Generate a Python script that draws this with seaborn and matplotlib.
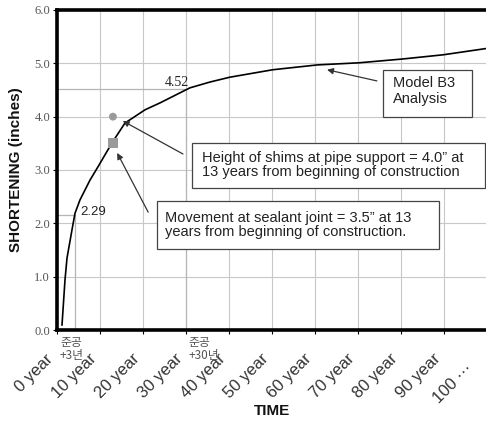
import matplotlib
matplotlib.use("Agg")
import matplotlib.pyplot as plt
import matplotlib.transforms as mtransforms
from matplotlib.patches import Rectangle
import seaborn as sns
import pandas as pd

# ---- data ----
years = [1.16, 1.86, 2.33, 3.49, 4.19, 5.35, 7.67, 9.53, 12.8, 15.8, 20.5,
         24.0, 30.9, 35.6, 40.2, 50.2, 60.5, 70.2, 80.2, 89.8, 100.0]
shortening = [0.09, 0.94, 1.35, 1.88, 2.19, 2.44, 2.81, 3.06, 3.51, 3.88, 4.13,
              4.26, 4.54, 4.65, 4.74, 4.88, 4.97, 5.01, 5.08, 5.16, 5.28]

shim_year = [13]
shim_value = [4.0]
sealant_year = [13]
sealant_value = [3.5]

milestone_years = [4.2, 30]
milestone_values = [2.15, 4.52]
milestone_texts = ["2.29", "4.52"]
milestone_korean = ["준공\n+3년", "준공\n+30년"]

x_ticks = list(range(0, 101, 10))
x_labels = ["0 year", "10 year", "20 year", "30 year", "40 year", "50 year",
            "60 year", "70 year", "80 year", "90 year", "100 \u00b7\u00b7\u00b7"]
y_ticks = [0, 1, 2, 3, 4, 5, 6]
y_labels = ["0.0", "1.0", "2.0", "3.0", "4.0", "5.0", "6.0"]

# ---- style ----
sns.set_theme(style="white")
plt.rcParams['font.family'] = ['Liberation Sans', 'Noto Sans CJK KR', 'DejaVu Sans']

fig = plt.figure(figsize=(4.86, 4.23), dpi=100)
ax = fig.add_axes([57 / 486, 93 / 423, 430 / 486, 320 / 423])

df = pd.DataFrame({"year": years, "short": shortening})
sns.lineplot(data=df, x="year", y="short", ax=ax, color="black", lw=1.2,
             sort=False, zorder=3)
sns.scatterplot(x=shim_year, y=shim_value, marker="o", s=32, color="#9a9a9a",
                edgecolor="none", ax=ax, zorder=4)
sns.scatterplot(x=sealant_year, y=sealant_value, marker="s", s=52, color="#9a9a9a",
                edgecolor="none", ax=ax, zorder=4)

ax.set_xlim(0, 100)
ax.set_ylim(0, 6)
ax.set_xticks(x_ticks)
ax.set_xticklabels(x_labels, rotation=45, ha="right", va="baseline",
                   rotation_mode="anchor", fontsize=12, color="#333333")
ax.set_yticks(y_ticks)
ax.set_yticklabels(y_labels, fontfamily="Liberation Serif", fontsize=9, color="#555555")
ax.grid(True, color="#c8c8c8", lw=0.8)
ax.tick_params(axis="both", direction="out", length=3, width=0.8, color="black",
               bottom=True, left=True)
ax.tick_params(axis="x", pad=18.5)
ax.tick_params(axis="y", pad=2)
for s in ["left", "bottom", "top"]:
    ax.spines[s].set_linewidth(2.6)
    ax.spines[s].set_color("black")
ax.spines["right"].set_visible(False)

# small offsets for the rotated tick labels (last label sits further back)
labels = ax.get_xticklabels()
for i, lab in enumerate(labels):
    if i == len(labels) - 1:
        off = mtransforms.ScaledTranslation(-0.13, -0.10, fig.dpi_scale_trans)
    else:
        off = mtransforms.ScaledTranslation(-0.03, 0.0, fig.dpi_scale_trans)
    lab.set_transform(lab.get_transform() + off)

ax.set_xlabel("TIME", fontsize=11, fontweight="bold", color="#111111")
ax.set_ylabel("SHORTENING (inches)", fontsize=11, fontweight="bold", color="#111111")
ax.xaxis.set_label_coords(0.5, (330 - 404) / 320)
ax.yaxis.set_label_coords((23 - 57) / 430, 0.5)

# milestone drop lines
for mx, my in zip(milestone_years, milestone_values):
    ax.plot([0, mx], [my, my], color="#b5b5b5", lw=0.9, zorder=2)
    ax.plot([mx, mx], [0, my], color="#b5b5b5", lw=0.9, zorder=2)

ax.text(5.35, 2.21, milestone_texts[0], fontsize=9.5, va="center", ha="left", color="#222222")
ax.text(25.1, 4.65, milestone_texts[1], fontfamily="Liberation Serif", fontsize=10,
        va="center", ha="left", color="#222222")

blend = mtransforms.blended_transform_factory(ax.transData, ax.transAxes)
ax.text(0.7, -0.02, milestone_korean[0], transform=blend, va="top", ha="left",
        fontsize=8.5, color="#555555", family=["Noto Sans CJK KR"], linespacing=1.0)
ax.text(30.5, -0.02, milestone_korean[1], transform=blend, va="top", ha="left",
        fontsize=8.5, color="#555555", family=["Noto Sans CJK KR"], linespacing=1.0)

# annotation boxes
def box(x0, x1, ytop, ybot):
    ax.add_patch(Rectangle((x0, ybot), x1 - x0, ytop - ybot, transform=ax.transAxes,
                           facecolor="white", edgecolor="#444444", lw=0.9, zorder=5,
                           clip_on=False))

box(0.314, 0.995, 0.584, 0.444)
ax.text(0.337, 0.516, "Height of shims at pipe support = 4.0\u201d at\n13 years from beginning of construction",
        transform=ax.transAxes, fontsize=10.5, va="center", ha="left", color="#222222",
        linespacing=1.0, zorder=6)
box(0.2326, 0.888, 0.403, 0.253)
ax.text(0.251, 0.328, "Movement at sealant joint = 3.5\u201d at 13\nyears from beginning of construction.",
        transform=ax.transAxes, fontsize=10.5, va="center", ha="left", color="#222222",
        linespacing=1.0, zorder=6)
box(0.758, 0.965, 0.8125, 0.666)
ax.text(0.781, 0.747, "Model B3\nAnalysis", transform=ax.transAxes, fontsize=10.5,
        va="center", ha="left", color="#222222", linespacing=1.15, zorder=6)

# arrows
arrow_kw = dict(arrowstyle="-|>", color="#333333", lw=0.9, mutation_scale=9,
                shrinkA=0, shrinkB=0)
ax.annotate("", xy=(15.3, 3.92), xytext=(29.3, 3.30), arrowprops=arrow_kw, zorder=6)
ax.annotate("", xy=(14.0, 3.32), xytext=(21.2, 2.21), arrowprops=arrow_kw, zorder=6)
ax.annotate("", xy=(62.8, 4.88), xytext=(74.4, 4.67), arrowprops=arrow_kw, zorder=6)

fig.savefig("out.png", dpi=100)
